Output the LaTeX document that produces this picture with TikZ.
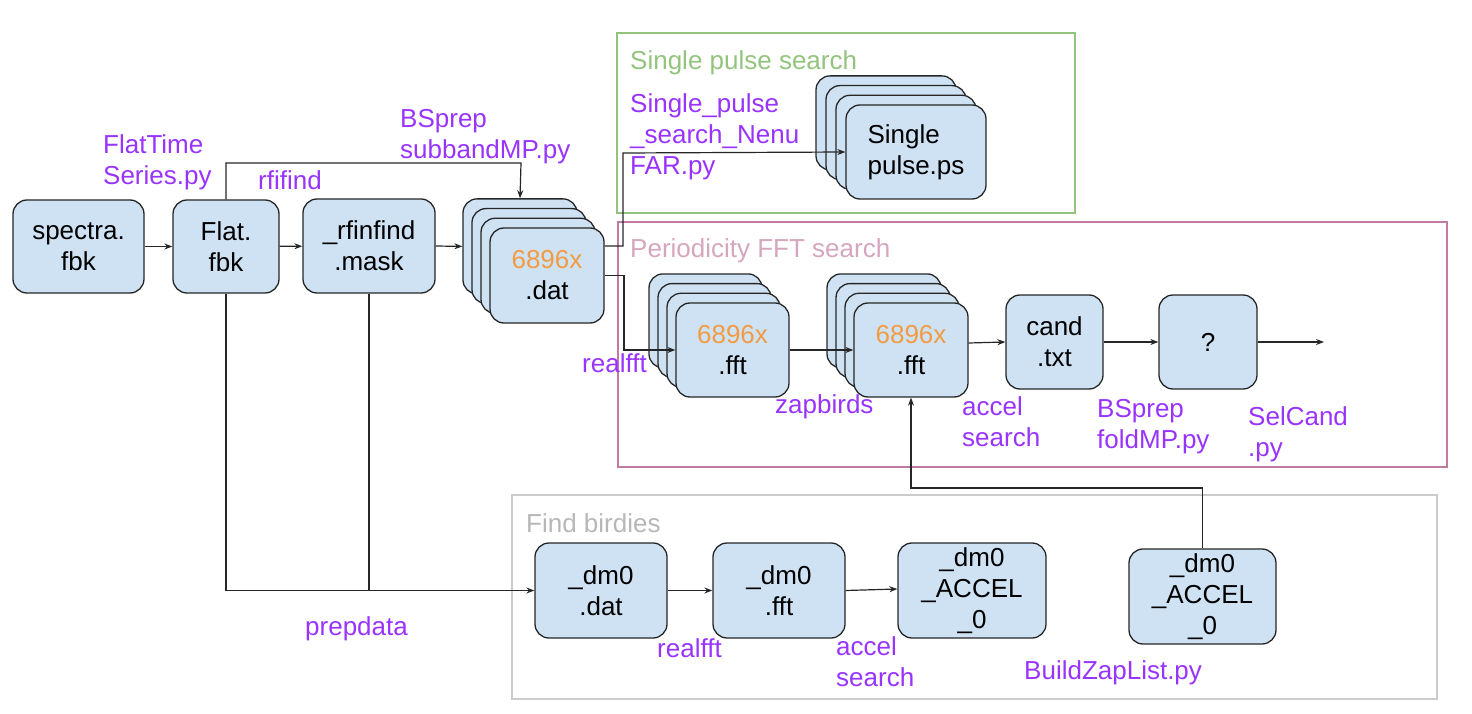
\documentclass[tikz,border=0pt]{standalone}
\usepackage{fontspec}
\setmainfont{Liberation Sans}
\usetikzlibrary{arrows.meta}
\definecolor{boxblue}{HTML}{CFE2F3}
\definecolor{labpurple}{HTML}{9933FF}
\definecolor{numorange}{HTML}{F29B43}
\definecolor{spgreen}{HTML}{93C47D}
\definecolor{fftpink}{HTML}{C27BA0}
\definecolor{fftpinktxt}{HTML}{D5A6BD}
\definecolor{birdgray}{HTML}{CCCCCC}
\definecolor{birdgraytxt}{HTML}{B7B7B7}
\tikzset{
	filebox/.style={draw=black!85,fill=boxblue,line width=1.3pt,rounded corners=14pt,inner sep=0pt,align=center},
	cmd/.style={text=labpurple,anchor=base west,align=left,inner sep=0pt},
	grouptitle/.style={anchor=base west,inner sep=0pt},
	conn/.style={->,line width=1.2pt,black!85}
}
\begin{document}
\begin{tikzpicture}[>={Stealth[length=8pt,width=6pt]},x=1pt,y=-1pt,font=\fontsize{26}{31}\selectfont]
		\useasboundingbox (0,0) rectangle (1472,714);
		\draw[spgreen,line width=1.3pt] (617,33) rectangle (1075,213);
		\draw[fftpink,line width=1.3pt] (618,222) rectangle (1447,467);
		\draw[birdgray,line width=1.3pt] (512,495) rectangle (1437,699);
		\node[grouptitle,text=spgreen] (sptitle) at (630,70) {Single pulse search};
		\node[grouptitle,text=fftpinktxt] (ffttitle) at (630,258) {Periodicity FFT search};
		\node[grouptitle,text=birdgraytxt] (birdtitle) at (526,532) {Find birdies};
		
		\node[filebox,minimum width=131pt,minimum height=93pt] (spec) at (78.5,246.5) {spectra.\\fbk};
		\node[filebox,minimum width=106pt,minimum height=93pt] (flat) at (226,246.5) {Flat.\\fbk};
		\node[filebox,minimum width=132pt,minimum height=94pt] (mask) at (369,246) {\_rfinfind\\.mask};
		\foreach \k in {3,2,1}
			\node[filebox,minimum width=114pt,minimum height=95pt] (datbk\k) at ({547-9*\k},{275.5-9.7*\k}) {};
		\node[filebox,minimum width=114pt,minimum height=95pt] (dat) at (547,275.5) {\textcolor{numorange}{6896x}\\.dat};
		\foreach \k in {3,2,1}
			\node[filebox,minimum width=140pt,minimum height=94pt] (spbk\k) at ({916-10*\k},{152-9.7*\k}) {};
		\node[filebox,align=left,minimum width=140pt,minimum height=94pt] (sp) at (916,152) {Single\\pulse.ps};
		\foreach \k in {3,2,1}
			\node[filebox,minimum width=113pt,minimum height=94pt] (ffabk\k) at ({732.5-9*\k},{350-9.7*\k}) {};
		\node[filebox,minimum width=113pt,minimum height=94pt] (ffa) at (732.5,350) {\textcolor{numorange}{6896x}\\.fft};
		\foreach \k in {3,2,1}
			\node[filebox,minimum width=114pt,minimum height=94pt] (ffbbk\k) at ({911-9*\k},{350-9.7*\k}) {};
		\node[filebox,minimum width=114pt,minimum height=94pt] (ffb) at (911,350) {\textcolor{numorange}{6896x}\\.fft};
		\node[filebox,minimum width=97pt,minimum height=94pt] (cand) at (1054.5,342) {cand\\.txt};
		\node[filebox,minimum width=98pt,minimum height=94pt] (sel) at (1208,342) {?};
		\node[filebox,minimum width=132pt,minimum height=95pt] (ddat) at (601,590.5) {\_dm0\\.dat};
		\node[filebox,minimum width=132pt,minimum height=95pt] (dfft) at (779,590.5) {\_dm0\\.fft};
		\node[filebox,minimum width=148pt,minimum height=95pt] (dacc) at (972,590.5) {\_dm0\\\_ACCEL\\\_0};
		\node[filebox,minimum width=147pt,minimum height=95pt] (zap) at (1202.5,596.5) {\_dm0\\\_ACCEL\\\_0};
		
		\coordinate (bsup) at (521,163);
		\coordinate (spturn) at (623,153);
		\coordinate (ffturn) at (624,350);
		\coordinate (zapturn) at (911,488);
		\coordinate (selout) at (1324,342);
		\draw[conn] (spec) -- (flat);
		\draw[conn] (flat) -- (mask);
		\draw[conn] (mask.east) -- (datbk3.west);
		\draw[conn] (flat.north) |- (bsup) -- (datbk3.north);
		\draw[conn] ([yshift=29.5pt]dat.east) -| (spturn) -- (sp.west);
		\draw[conn] (dat.east) -| (ffturn) -- (ffa.west);
		\draw[conn] (ffa) -- (ffb);
		\draw[conn] ([yshift=7pt]ffb.east) -- (cand.west);
		\draw[conn] (cand) -- (sel);
		\draw[conn] (sel.east) -- (selout);
		\draw[conn] (zap.north) |- (zapturn) -- (ffb.south);
		\draw[conn] (flat.south) |- (ddat.west);
		\draw[line width=1.2pt,black!85] (mask.south) -- (mask.south |- ddat.west);
		\draw[conn] (ddat) -- (dfft);
		\draw[conn] (dfft.east) -- ([yshift=1.5pt]dacc.west);
		
		\node[cmd] (flatcmd) at (103,185) {FlatTime\\Series.py};
		\node[cmd] (rficmd) at (258,190) {rfifind};
		\node[cmd] (subcmd) at (400,159) {BSprep\\subbandMP.py};
		\node[cmd] (spcmd) at (630,175) {Single\_pulse\\\_search\_Nenu\\FAR.py};
		\node[cmd] (rfftcmd) at (582,372) {realfft};
		\node[cmd] (zapcmd) at (775,413) {zapbirds};
		\node[cmd] (acccmd) at (962,446) {accel\\search};
		\node[cmd] (foldcmd) at (1097,448) {BSprep\\foldMP.py};
		\node[cmd] (selcmd) at (1248,456) {SelCand\\.py};
		\node[cmd] (prepcmd) at (305,635) {prepdata};
		\node[cmd] (drfftcmd) at (657,657) {realfft};
		\node[cmd] (daccmd) at (836,686) {accel\\search};
		\node[cmd] (buildcmd) at (1024,679) {BuildZapList.py};
\end{tikzpicture}
\end{document}
